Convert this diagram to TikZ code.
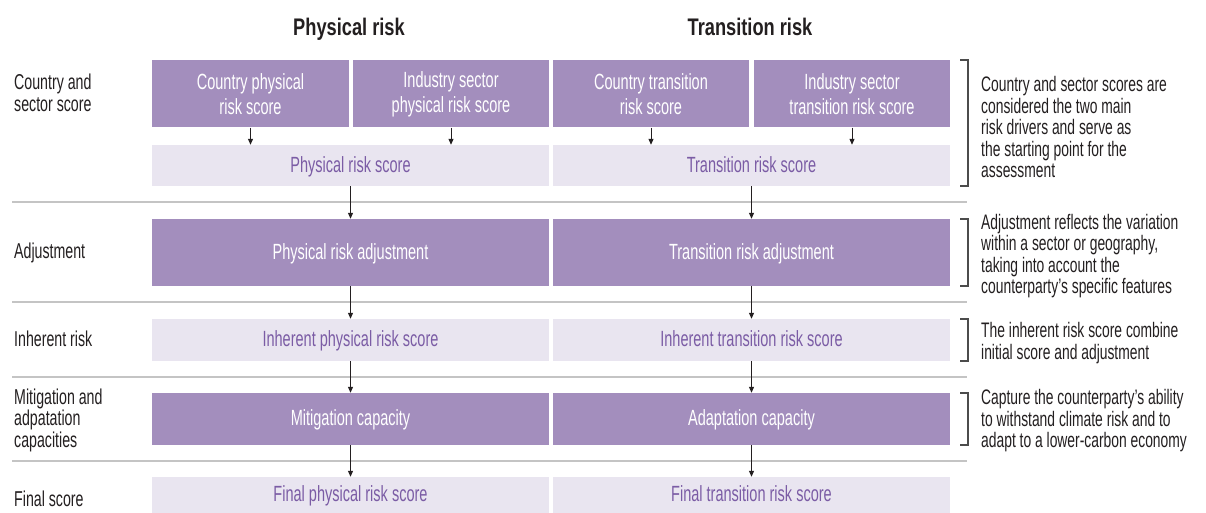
\documentclass[tikz,border=0pt]{standalone}
\usepackage{fontspec}
\setmainfont{Liberation Sans}[FakeStretch=0.66]
\newfontfamily\headfont{Liberation Sans}[FakeStretch=0.76]
\usetikzlibrary{arrows.meta,positioning}
\definecolor{boxdark}{HTML}{A38EBD}
\definecolor{boxlight}{HTML}{E9E5F0}
\definecolor{txtpurple}{HTML}{7B5CA5}
\definecolor{sepgray}{HTML}{C4C4C4}
\definecolor{inkgray}{HTML}{231F20}

\begin{document}
\begin{tikzpicture}[
    x=1pt, y=-1pt,
    darkbox/.style={
        rectangle,
        fill=boxdark,
        text=white,
        inner sep=0pt,
        align=center,
        font=\fontsize{22}{25}\selectfont
    },
    lightbox/.style={
        rectangle,
        fill=boxlight,
        text=txtpurple,
        inner sep=0pt,
        minimum width=397pt,
        minimum height=41pt,
        font=\fontsize{22}{25}\selectfont
    },
    oneline/.style={text height=16pt, text depth=3pt},
    head/.style={
        text=inkgray,
        font=\headfont\bfseries\fontsize{24}{28}\selectfont
    },
    rowlbl/.style={
        anchor=west,
        align=left,
        inner sep=0pt,
        text=inkgray,
        font=\fontsize{21.5}{21.5}\selectfont
    },
    note/.style={rowlbl, font=\fontsize{21}{21.5}\selectfont},
    arr/.style={-{Triangle[length=6pt,width=5pt]}, line width=1pt, draw=inkgray},
    sep/.style={line width=1.2pt, draw=sepgray},
    brk/.style={line width=1.2pt, draw=black!70}
]
\fill[white] (0,0) rectangle (1206,513);

% --- column headings ---
\node[head, oneline] (hphys) at (349,29) {Physical risk};
\node[head, oneline] (htran) at (750,29) {Transition risk};

% --- row 1: country and sector ---
\node[darkbox, minimum width=197pt, minimum height=67pt] (cpp) at (250.5,94) {Country physical\\risk score};
\node[darkbox, minimum width=196pt, minimum height=67pt] (ipp) at (451,94) {Industry sector\\physical risk score};
\node[darkbox, minimum width=196pt, minimum height=67pt] (ctr) at (651,94) {Country transition\\risk score};
\node[darkbox, minimum width=196pt, minimum height=67pt] (itr) at (852,94) {Industry sector\\transition risk score};
\node[lightbox, oneline] (prs) at (350.5,165.5) {Physical risk score};
\node[lightbox, oneline] (trs) at (751.5,165.5) {Transition risk score};

% --- row 2: adjustment ---
\node[darkbox, oneline, minimum width=397pt, minimum height=67pt] (padj) at (350.5,252.5) {Physical risk adjustment};
\node[darkbox, oneline, minimum width=397pt, minimum height=67pt] (tadj) at (751.5,252.5) {Transition risk adjustment};

% --- row 3: inherent risk ---
\node[lightbox, oneline, minimum height=42pt] (pinh) at (350.5,340) {Inherent physical risk score};
\node[lightbox, oneline, minimum height=42pt] (tinh) at (751.5,340) {Inherent transition risk score};

% --- row 4: capacities ---
\node[darkbox, oneline, minimum width=397pt, minimum height=52pt] (pmit) at (350.5,419) {Mitigation capacity};
\node[darkbox, oneline, minimum width=397pt, minimum height=52pt] (tada) at (751.5,419) {Adaptation capacity};

% --- row 5: final score ---
\node[lightbox, oneline, minimum height=36pt] (pfin) at (350.5,495) {Final physical risk score};
\node[lightbox, oneline, minimum height=36pt] (tfin) at (751.5,495) {Final transition risk score};

% --- row labels ---
\node[rowlbl] (lcs) at (14,93) {Country and\\sector score};
\node[rowlbl] (ladj) at (14,253) {Adjustment};
\node[rowlbl] (linh) at (14,339) {Inherent risk};
\node[rowlbl] (lmit) at (14,420) {Mitigation and\\adpatation\\capacities};
\node[rowlbl] (lfin) at (14,499) {Final score};

% --- separators ---
\draw[sep] (12,202) -- (967,202);
\draw[sep] (12,302) -- (967,302);
\draw[sep] (12,377) -- (967,377);
\draw[sep] (12,461) -- (967,461);

% --- arrows ---
\draw[arr] (cpp.south) -- (cpp.south |- prs.north);
\draw[arr] (ipp.south) -- (ipp.south |- prs.north);
\draw[arr] (ctr.south) -- (ctr.south |- trs.north);
\draw[arr] (itr.south) -- (itr.south |- trs.north);
\draw[arr] (prs.south) -- (padj.north);
\draw[arr] (trs.south) -- (tadj.north);
\draw[arr] (padj.south) -- (pinh.north);
\draw[arr] (tadj.south) -- (tinh.north);
\draw[arr] (pinh.south) -- (pmit.north);
\draw[arr] (tinh.south) -- (tada.north);
\draw[arr] (pmit.south) -- (pfin.north);
\draw[arr] (tada.south) -- (tfin.north);

% --- brackets and notes ---
\draw[brk] (960,60) -- (968,60) -- (968,186) -- (960,186);
\draw[brk] (960,219) -- (968,219) -- (968,286) -- (960,286);
\draw[brk] (960,319) -- (968,319) -- (968,361) -- (960,361);
\draw[brk] (960,393) -- (968,393) -- (968,445) -- (960,445);
\node[note] (n1) at (981,127) {Country and sector scores are\\considered the two main\\risk drivers and serve as\\the starting point for the\\assessment};
\node[note] (n2) at (981,256) {Adjustment reflects the variation\\within a sector or geography,\\taking into account the\\counterparty’s specific features};
\node[note] (n3) at (981,343) {The inherent risk score combine\\initial score and adjustment};
\node[note] (n4) at (981,421) {Capture the counterparty’s ability\\to withstand climate risk and to\\adapt to a lower-carbon economy};
\end{tikzpicture}
\end{document}
